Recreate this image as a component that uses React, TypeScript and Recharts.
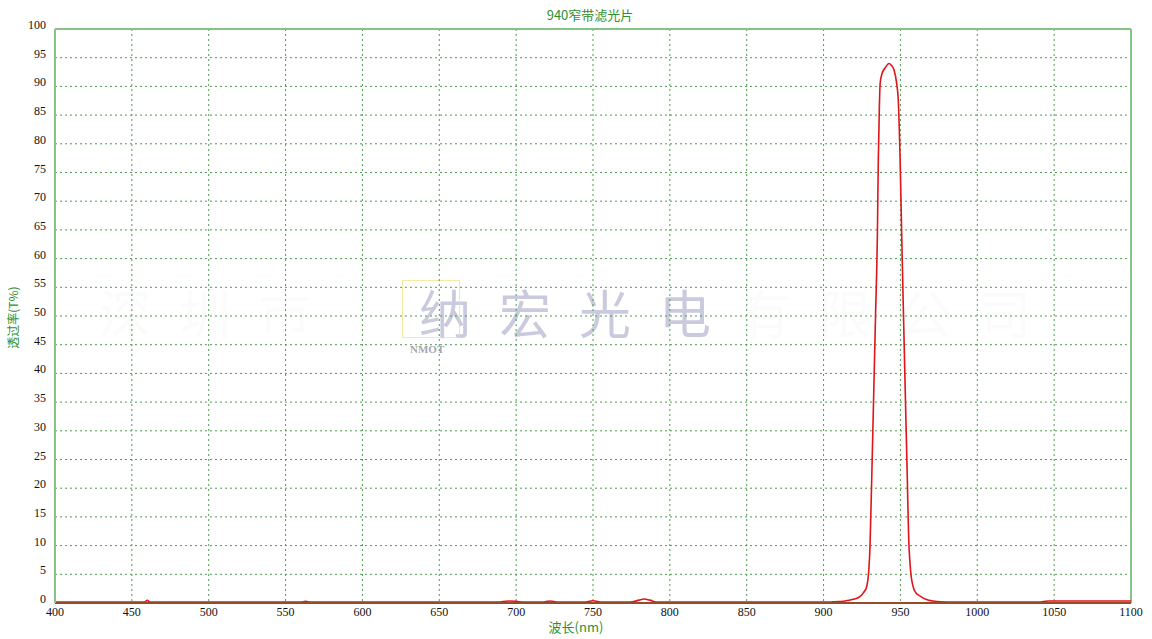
import React from 'react';
import {
  LineChart, Line, XAxis, YAxis, CartesianGrid, ReferenceLine,
} from 'recharts';

// wavelength (nm) and transmittance (%)
const wavelengths = [
  400, 458, 460, 462, 560, 563, 566, 688, 695, 700, 705, 717, 722, 727,
  744, 750, 756, 774, 780, 783, 787, 791, 900, 906, 910, 913, 916, 920,
  923, 926, 928, 929.5, 930.2, 931.3, 932.5, 933.8, 935, 935.6, 936.3,
  936.8, 938, 940, 942.6, 944, 945.8, 947.5, 948.6, 949.8, 950.9, 952,
  953.3, 954.5, 955.3, 956.5, 958.3, 960, 962.8, 967, 971, 976, 985,
  1040, 1046, 1100,
];
const transmittance = [
  0.15, 0.15, 0.45, 0.15, 0.15, 0.3, 0.15, 0.15, 0.35, 0.3, 0.15, 0.15,
  0.35, 0.15, 0.15, 0.4, 0.15, 0.15, 0.5, 0.7, 0.5, 0.15, 0.15, 0.2,
  0.25, 0.3, 0.45, 0.7, 1.0, 1.8, 2.8, 6, 9.8, 21.4, 35, 50, 64, 77,
  86.5, 90.5, 92.2, 93.2, 94, 93.7, 92.9, 90.6, 87.6, 77.2, 63.2, 50,
  35, 21.4, 12, 6, 2.8, 1.8, 1.2, 0.6, 0.35, 0.2, 0.15, 0.15, 0.35, 0.35,
];

const xTicks = [400, 450, 500, 550, 600, 650, 700, 750, 800, 850, 900, 950, 1000, 1050, 1100];
const yTicks = [0, 5, 10, 15, 20, 25, 30, 35, 40, 45, 50, 55, 60, 65, 70, 75, 80, 85, 90, 95, 100];

const title = '940窄带滤光片';
const xTitle = '波长(nm)';
const yTitle = '透过率(T%)';
const watermarkLeft = ['深', '圳', '市'];
const watermarkMid = ['纳', '宏', '光', '电'];
const watermarkRight = ['有', '限', '公', '司'];

const data = wavelengths.map((nm, i) => ({ nm, t: transmittance[i] }));

const GREEN = '#2f8f2f';
const GRID = '#4f9a4f';
const BORDER = '#86c486';
const SERIF = '"Liberation Serif", "Times New Roman", serif';
const CJK = '"Noto Sans CJK SC", "Noto Sans", sans-serif';

const YTick = (props: any) => {
  const { x, y, payload } = props;
  return (
    <text x={x} y={y} textAnchor="end" fontSize={12} fontFamily={SERIF} fill="#111">
      {payload.value}
    </text>
  );
};

const XTick = (props: any) => {
  const { x, y, payload } = props;
  return (
    <text x={x} y={y + 5} textAnchor="middle" fontSize={12} fontFamily={SERIF} fill="#111">
      {payload.value}
    </text>
  );
};

const MarkRow = ({ chars, left, color }: { chars: string[]; left: number; color: string }) => (
  <div style={{ position: 'absolute', left, top: 285, display: 'flex', pointerEvents: 'none' }}>
    {chars.map((c, i) => (
      <div
        key={i}
        style={{
          width: 80, height: 54, fontFamily: CJK, fontSize: 52,
          lineHeight: '54px', textAlign: 'center', color,
        }}
      >
        {c}
      </div>
    ))}
  </div>
);

export default function App() {
  return (
    <div style={{ position: 'absolute', left: 0, top: 0, width: 1152, height: 639, background: '#fff' }}>
      {/* watermark, behind the plot */}
      <MarkRow chars={watermarkLeft} left={85} color="rgba(232,232,240,0.18)" />
      <MarkRow chars={watermarkMid} left={405} color="rgba(150,150,190,0.5)" />
      <MarkRow chars={watermarkRight} left={725} color="rgba(232,232,240,0.18)" />
      <div style={{
        position: 'absolute', left: 402, top: 280, width: 58, height: 58,
        border: '1px solid rgba(240,225,120,0.7)', boxSizing: 'border-box',
      }} />
      <div style={{
        position: 'absolute', left: 410, top: 343,
        fontFamily: SERIF, fontWeight: 'bold', fontSize: 11, lineHeight: '13px', color: 'rgba(140,140,160,0.8)',
      }}>NMOT</div>

      <div style={{ position: 'absolute', left: 0, top: 0 }}>
        <LineChart
          width={1152}
          height={639}
          data={data}
          margin={{ top: 29, right: 21, bottom: 16, left: 15 }}
        >
          <CartesianGrid stroke={GRID} strokeDasharray="2 3" strokeWidth={1} />
          <XAxis
            type="number"
            dataKey="nm"
            domain={[400, 1100]}
            ticks={xTicks}
            interval={0}
            tick={<XTick />}
            tickLine={false}
            axisLine={{ stroke: '#9a4a28', strokeWidth: 2 }}
            height={20}
          />
          <YAxis
            type="number"
            domain={[0, 100]}
            ticks={yTicks}
            interval={0}
            tick={<YTick />}
            tickLine={false}
            tickMargin={3}
            axisLine={{ stroke: BORDER, strokeWidth: 2 }}
            width={40}
          />
          <ReferenceLine y={100} stroke={BORDER} strokeWidth={2} />
          <ReferenceLine x={1100} stroke={BORDER} strokeWidth={2} />
          <Line
            type="monotone"
            dataKey="t"
            stroke="#e0141a"
            strokeWidth={1.6}
            dot={false}
            isAnimationActive={false}
          />
        </LineChart>
      </div>

      {/* titles */}
      <div style={{
        position: 'absolute', left: 0, width: 1180, top: 5, textAlign: 'center',
        fontFamily: CJK, fontSize: 13, color: GREEN,
      }}>{title}</div>
      <div style={{
        position: 'absolute', left: 476, width: 200, top: 619, textAlign: 'center',
        fontFamily: CJK, fontSize: 13, lineHeight: '16px', color: GREEN,
      }}>{xTitle}</div>
      <div style={{
        position: 'absolute', left: 12, top: 318, width: 0, height: 0,
      }}>
        <div style={{
          position: 'absolute', left: -50, top: -9, width: 100, textAlign: 'center',
          transform: 'rotate(-90deg)', fontFamily: CJK, fontSize: 12, color: GREEN,
          whiteSpace: 'nowrap',
        }}>{yTitle}</div>
      </div>
    </div>
  );
}
